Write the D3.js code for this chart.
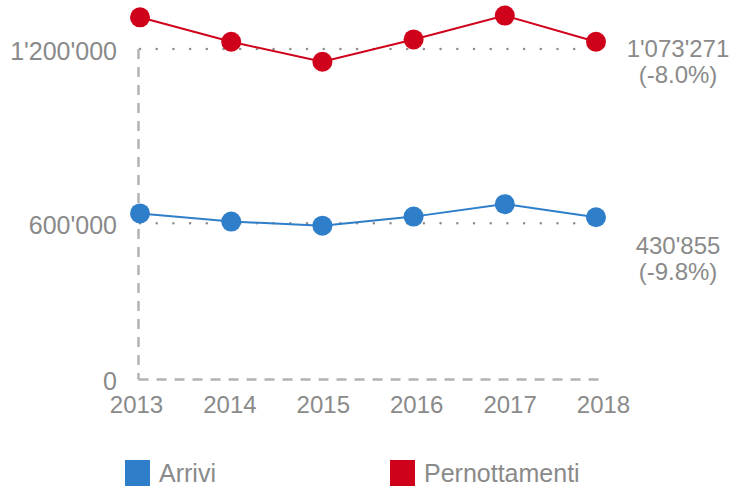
<!DOCTYPE html>
<html>
<head>
<meta charset="utf-8">
<script src="https://cdn.jsdelivr.net/npm/d3@7"></script>
<style>
  body { margin: 0; background: #fff; }
  svg { display: block; font-family: "Liberation Sans", Arial, sans-serif; }
</style>
</head>
<body>
<div id="chart"></div>
<script>
// data
const years = ["2013", "2014", "2015", "2016", "2017", "2018"];
const arrivi = [634000, 606000, 591000, 623000, 666000, 621000];
const pernottamenti = [1309000, 1225000, 1156000, 1233000, 1315000, 1225000];
const yTicks = [0, 600000, 1200000];
const seriesNames = ["Arrivi", "Pernottamenti"];
const endLabels = [["430'855", "(-9.8%)"], ["1'073'271", "(-8.0%)"]];

const colors = ["#2e7ec9", "#d0021b"];
const grey = "#8a8a8a";

const width = 747, height = 489;

const svg = d3.select('#chart')
  .append('svg')
  .attr('width', width)
  .attr('height', height);

const x = d3.scalePoint()
  .domain(years)
  .range([140, 596]);

// tick labels sit a little wider than the points
const xLab = d3.scalePoint()
  .domain(years)
  .range([136, 603]);

// the gridlines are not evenly spaced in the picture, so piecewise
const y = d3.scaleLinear()
  .domain(yTicks)
  .range([379.5, 223.3, 49]);

const fmt = d3.formatLocale({ decimal: ".", thousands: "'", grouping: [3], currency: ["", ""] }).format(",");

// dotted gridlines
svg.selectAll('.grid')
  .data(yTicks.filter(d => d > 0))
  .join('line')
  .attr('class', 'grid')
  .attr('x1', x(years[0]))
  .attr('x2', x(years[years.length - 1]) + 6)
  .attr('y1', d => y(d))
  .attr('y2', d => y(d))
  .attr('stroke', '#8f8f8f')
  .attr('stroke-width', 2.6)
  .attr('stroke-linecap', 'round')
  .attr('stroke-dasharray', '0,16.7');

// dashed axis lines
const axisX = 138.5;
svg.append('line')
  .attr('x1', axisX).attr('x2', axisX)
  .attr('y1', y(1200000)).attr('y2', y(0))
  .attr('stroke', '#b3b3b3')
  .attr('stroke-width', 2.5)
  .attr('stroke-dasharray', '10,8');

svg.append('line')
  .attr('x1', axisX).attr('x2', 606)
  .attr('y1', y(0)).attr('y2', y(0))
  .attr('stroke', '#b3b3b3')
  .attr('stroke-width', 2.5)
  .attr('stroke-dasharray', '10,8');

// y axis labels
const yAxis = svg.append('g')
  .attr('transform', `translate(${axisX},0)`)
  .call(d3.axisLeft(y).tickValues(yTicks).tickFormat(fmt).tickSize(0).tickPadding(21.5));
yAxis.select('.domain').remove();
yAxis.selectAll('text')
  .attr('dy', '0.4em')
  .attr('fill', grey)
  .style('font-size', '25px')
  .style('font-family', '"Liberation Sans", Arial, sans-serif');

// x axis labels
const xAxis = svg.append('g')
  .attr('transform', `translate(0,${y(0)})`)
  .call(d3.axisBottom(xLab).tickSize(0).tickPadding(16.8));
xAxis.select('.domain').remove();
xAxis.selectAll('text')
  .attr('fill', grey)
  .style('font-size', '24px')
  .style('font-family', '"Liberation Sans", Arial, sans-serif');

const series = [arrivi, pernottamenti];

const line = d3.line()
  .x((d, i) => x(years[i]))
  .y(d => y(d));

svg.selectAll('.series-line')
  .data(series)
  .join('path')
  .attr('class', 'series-line')
  .attr('d', line)
  .attr('fill', 'none')
  .attr('stroke', (d, i) => colors[i])
  .attr('stroke-width', 2);

series.forEach((values, s) => {
  svg.selectAll(`.pt-${s}`)
    .data(values)
    .join('circle')
    .attr('class', `pt-${s}`)
    .attr('cx', (d, i) => x(years[i]))
    .attr('cy', d => y(d))
    .attr('r', 10)
    .attr('fill', colors[s]);
});

// end labels beside the last point, one text per line
const labelShift = [37, 15];
series.forEach((values, s) => {
  const last = values[values.length - 1];
  endLabels[s].forEach((str, k) => {
    svg.append('text')
      .attr('x', 678)
      .attr('y', y(last) + labelShift[s] + k * 26)
      .attr('text-anchor', 'middle')
      .attr('fill', grey)
      .style('font-size', '24px')
      .text(str);
  });
});

// legend
const legend = svg.selectAll('.legend')
  .data(seriesNames)
  .join('g')
  .attr('class', 'legend')
  .attr('transform', (d, i) => `translate(${125 + i * 265},460)`);

legend.append('rect')
  .attr('width', 25)
  .attr('height', 26)
  .attr('fill', (d, i) => colors[i]);

legend.append('text')
  .attr('x', 34)
  .attr('y', 13)
  .attr('dy', '0.35em')
  .attr('fill', grey)
  .style('font-size', '25px')
  .text(d => d);
</script>
</body>
</html>
